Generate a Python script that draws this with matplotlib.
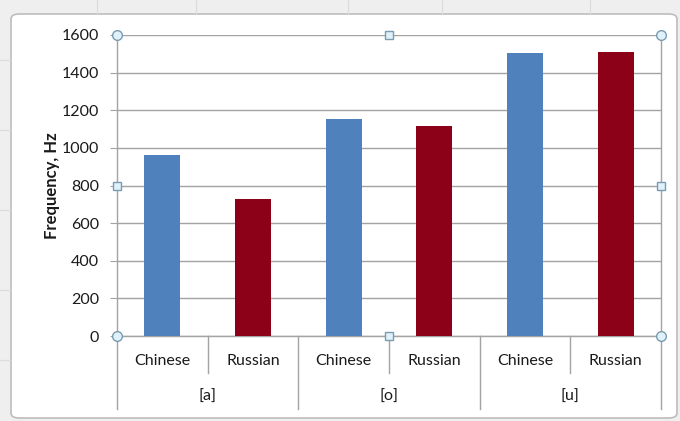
import matplotlib.pyplot as plt
from matplotlib.patches import FancyBboxPatch
import matplotlib.transforms as mtransforms

plt.rcParams['font.family'] = ['Lato', 'DejaVu Sans']

# formant frequencies by vowel and speaker group
vowels = ['[a]', '[o]', '[u]']
speakers = ['Chinese', 'Russian']
chinese = [962, 1153, 1503]
russian = [728, 1116, 1510]

blue = '#4f81bd'
red = '#8c0018'
grid_col = '#a3a3a3'
txt = '#1a1a1a'

fig = plt.figure(figsize=(6.8, 4.21), dpi=100)
fig.patch.set_facecolor('#efefef')

W, H = 680, 421

# worksheet cell lines behind the chart
for x in [97, 196, 348, 442, 590]:
    fig.add_artist(plt.Line2D([x / W, x / W], [1 - 14 / H, 1], color='#dcdcdc', lw=0.8))
for y in [60, 130, 210, 290, 360]:
    fig.add_artist(plt.Line2D([0, 10 / W], [1 - y / H, 1 - y / H], color='#dcdcdc', lw=0.8))

# chart area frame
frame = FancyBboxPatch((11 / W, 3 / H), 666 / W, 404 / H,
                       boxstyle='round,pad=0,rounding_size=0.012',
                       transform=fig.transFigure, facecolor='white',
                       edgecolor='#bdbdbd', lw=1.2, zorder=0)
fig.add_artist(frame)

x0, x1 = 117, 661
y0, y1 = 336, 35
ax = fig.add_axes([x0 / W, 1 - y0 / H, (x1 - x0) / W, (y0 - y1) / H])
ax.set_facecolor('none')

# one slot per (vowel, speaker) pair
pos = list(range(len(vowels) * len(speakers)))
vals = []
cols = []
for c, r in zip(chinese, russian):
    vals += [c, r]
    cols += [blue, red]
ax.bar(pos, vals, width=0.4, color=cols, zorder=3)

ax.set_xlim(-0.5, len(pos) - 0.5)
ax.set_ylim(0, 1600)
ax.set_yticks(range(0, 1601, 200))
ax.yaxis.grid(True, color=grid_col, lw=1)
ax.set_axisbelow(True)
ax.spines['top'].set_visible(False)
for s in ['left', 'right', 'bottom']:
    ax.spines[s].set_color(grid_col)
    ax.spines[s].set_linewidth(1)
ax.tick_params(axis='y', length=5, color=grid_col, labelsize=11.5,
               labelcolor=txt, pad=8)
ax.set_xticks([])
ax.set_ylabel('Frequency, Hz', fontsize=12, fontweight='bold', color=txt,
              labelpad=1)

# two-level category axis
trans = mtransforms.blended_transform_factory(ax.transData, ax.transAxes)
span = y0 - y1
short = -37 / span
long_ = -73 / span
for i in range(len(pos) + 1):
    xb = i - 0.5
    bottom = long_ if i % 2 == 0 else short
    ax.add_line(plt.Line2D([xb, xb], [0, bottom], transform=trans,
                           color=grid_col, lw=1, clip_on=False))
for i, p in enumerate(pos):
    ax.text(p, -25 / span, speakers[i % 2], transform=trans,
            ha='center', va='center', fontsize=11.5, color=txt)
for j, v in enumerate(vowels):
    ax.text(2 * j + 0.5, -61 / span, v, transform=trans,
            ha='center', va='center', fontsize=11.5, color=txt)

# selection handles on the plot area
hx = [x0, (x0 + x1) / 2, x1]
hy = [y1, (y0 + y1) / 2, y0]
for i, px in enumerate(hx):
    for j, py in enumerate(hy):
        if i == 1 and j == 1:
            continue
        marker = 's' if (i == 1 or j == 1) else 'o'
        fig.add_artist(plt.Line2D([px / W], [1 - py / H], marker=marker,
                                  markersize=7 if marker == 'o' else 6,
                                  markerfacecolor='#dff1fa',
                                  markeredgecolor='#7a9cb0', lw=0))

fig.savefig('out.png', dpi=100, facecolor=fig.get_facecolor())
